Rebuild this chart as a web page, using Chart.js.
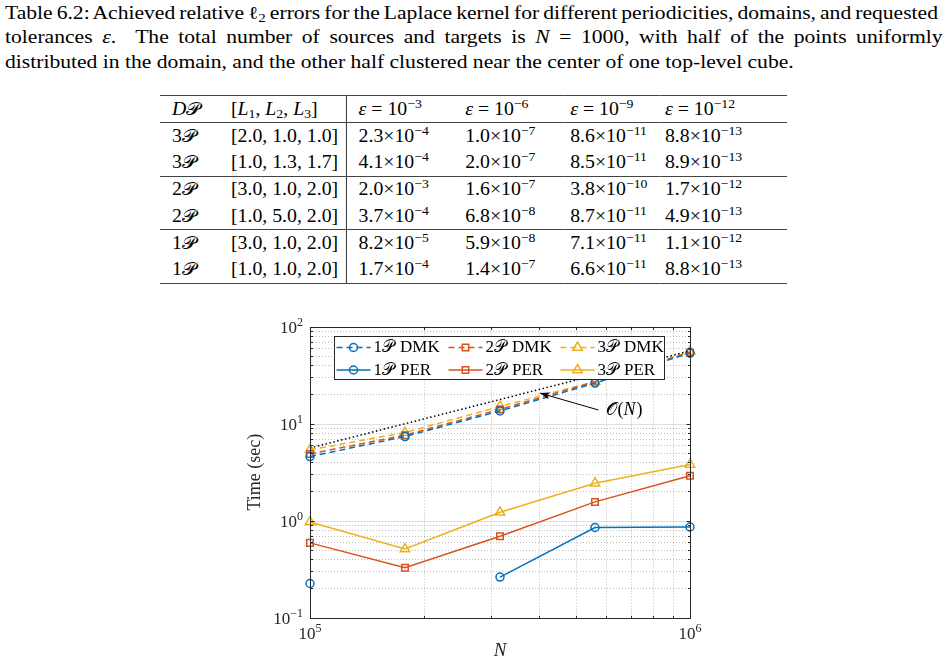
<!DOCTYPE html>
<html>
<head>
<meta charset="utf-8">
<script src="https://cdn.jsdelivr.net/npm/chart.js@4.4.1/dist/chart.umd.min.js"></script>
<style>
  body { margin: 0; background: #fff; width: 947px; height: 670px; overflow: hidden; position: relative;
         font-family: "Liberation Serif", serif; color: #000; }
  #cap { position: absolute; left: 5px; top: 1px; font-size: 18px; line-height: 24.3px; }
  #cap div { white-space: nowrap; height: 24.3px; }
  #cap span { display: inline-block; transform: scaleX(1.2); transform-origin: 0 0; }
  sub, sup { font-size: 12.5px; line-height: 0; }
  sub { vertical-align: -3px; }
  sup { vertical-align: 7px; }
  table { position: absolute; left: 160px; top: 95px; border-collapse: collapse; table-layout: fixed;
          width: 570px; font-size: 18px; border-top: 1px solid #444; border-bottom: 1px solid #444;
          transform: scaleX(1.1); transform-origin: 0 0; }
  td { padding: 0; white-space: nowrap; height: 26.3px; }
  thead td { height: 26px; border-bottom: 1px solid #444; }
  tbody + tbody tr:first-child td { border-top: 1px solid #444; }
  td.c1 { padding-left: 11px; }
  td.c2 { padding-left: 4.5px; border-right: 1px solid #444; }
  td.c3 { padding-left: 11px; }
  td.c4, td.c5 { padding-left: 6.4px; }
  td.c6 { padding-left: 4.5px; }
  #wrap { position: absolute; left: 230px; top: 300px; width: 490px; height: 370px; }
</style>
</head>
<body>
<div id="cap">
  <div><span class="just">Table 6.2: Achieved relative ℓ<sub>2</sub> errors for the Laplace kernel for different periodicities, domains, and requested</span></div>
  <div><span class="just">tolerances <i>ε</i>.&nbsp; The total number of sources and targets is <i>N</i> = 1000, with half of the points uniformly</span></div>
  <div><span>distributed in the domain, and the other half clustered near the center of one top-level cube.</span></div>
</div>

<table>
  <colgroup><col style="width:60px"><col style="width:109px"><col style="width:102px"><col style="width:95.5px"><col style="width:88px"><col style="width:115.5px"></colgroup>
  <thead><tr><td class="c1"><i>D</i>𝒫</td><td class="c2">[<i>L</i><sub>1</sub>, <i>L</i><sub>2</sub>, <i>L</i><sub>3</sub>]</td>
    <td class="c3"><i>ε</i> = 10<sup>−3</sup></td><td class="c4"><i>ε</i> = 10<sup>−6</sup></td><td class="c5"><i>ε</i> = 10<sup>−9</sup></td><td class="c6"><i>ε</i> = 10<sup>−12</sup></td></tr></thead>
  <tbody>
    <tr><td class="c1">3𝒫</td><td class="c2">[2.0, 1.0, 1.0]</td><td class="c3">2.3×10<sup>−4</sup></td><td class="c4">1.0×10<sup>−7</sup></td><td class="c5">8.6×10<sup>−11</sup></td><td class="c6">8.8×10<sup>−13</sup></td></tr>
    <tr><td class="c1">3𝒫</td><td class="c2">[1.0, 1.3, 1.7]</td><td class="c3">4.1×10<sup>−4</sup></td><td class="c4">2.0×10<sup>−7</sup></td><td class="c5">8.5×10<sup>−11</sup></td><td class="c6">8.9×10<sup>−13</sup></td></tr>
  </tbody>
  <tbody>
    <tr><td class="c1">2𝒫</td><td class="c2">[3.0, 1.0, 2.0]</td><td class="c3">2.0×10<sup>−3</sup></td><td class="c4">1.6×10<sup>−7</sup></td><td class="c5">3.8×10<sup>−10</sup></td><td class="c6">1.7×10<sup>−12</sup></td></tr>
    <tr><td class="c1">2𝒫</td><td class="c2">[1.0, 5.0, 2.0]</td><td class="c3">3.7×10<sup>−4</sup></td><td class="c4">6.8×10<sup>−8</sup></td><td class="c5">8.7×10<sup>−11</sup></td><td class="c6">4.9×10<sup>−13</sup></td></tr>
  </tbody>
  <tbody>
    <tr><td class="c1">1𝒫</td><td class="c2">[3.0, 1.0, 2.0]</td><td class="c3">8.2×10<sup>−5</sup></td><td class="c4">5.9×10<sup>−8</sup></td><td class="c5">7.1×10<sup>−11</sup></td><td class="c6">1.1×10<sup>−12</sup></td></tr>
    <tr><td class="c1">1𝒫</td><td class="c2">[1.0, 1.0, 2.0]</td><td class="c3">1.7×10<sup>−4</sup></td><td class="c4">1.4×10<sup>−7</sup></td><td class="c5">6.6×10<sup>−11</sup></td><td class="c6">8.8×10<sup>−13</sup></td></tr>
  </tbody>
</table>

<div id="wrap"><canvas id="myChart" width="490" height="370"></canvas></div>

<script>
/* Data */
const N = [100000, 177828, 316228, 562341, 1000000];
const dmk1P = [4.57, 7.35, 13.5, 26.1, 53.2];
const dmk2P = [4.87, 7.6, 14.0, 27.0, 54.0];
const dmk3P = [5.37, 8.08, 15.0, 27.1, 55.2];
const per1P = [0.225, null, 0.262, 0.85, 0.86];
const per2P = [0.59, 0.327, 0.69, 1.56, 2.90];
const per3P = [0.97, 0.51, 1.22, 2.43, 3.79];
const refN = [100000, 1000000];
const refT = [5.6, 56];          // O(N) guide line
const xTicks = [100000, 1000000];
const yTicks = [0.1, 1, 10, 100];
const xExp = ["5", "6"];
const yExp = ["\u22121", "0", "1", "2"];

/* justify the first two caption lines to the text width (after the 1.2 stretch) */
document.querySelectorAll("#cap span.just").forEach(s => {
  const spaces = (s.textContent.trim().match(/\s+/g) || []).length;
  const w = s.offsetWidth;
  s.style.wordSpacing = ((933 / 1.2 - w) / spaces) + "px";
});

const BLUE = "#0072BD", RED = "#D95319", YEL = "#EDB120";
const SERIF = '"Liberation Serif", serif';

const pts = (xs, ys) => xs.map((x, i) => ({ x: x, y: ys[i] }));

function series(label, values, color, style, dashed) {
  return {
    label: label,
    data: pts(N, values),
    borderColor: color,
    backgroundColor: "transparent",
    borderWidth: 1.5,
    borderDash: dashed ? [6, 4] : [],
    pointStyle: style,
    pointRadius: style === "triangle" ? 5.5 : style === "rect" ? 4.6 : 4,
    pointBorderWidth: 1.5,
    pointBackgroundColor: "transparent",
    pointBorderColor: color,
    spanGaps: false,
    clip: false,
    tension: 0
  };
}

const legendItems = [
  { num: "1", name: "DMK", color: BLUE, style: "circle", dashed: true },
  { num: "2", name: "DMK", color: RED, style: "rect", dashed: true },
  { num: "3", name: "DMK", color: YEL, style: "triangle", dashed: true },
  { num: "1", name: "PER", color: BLUE, style: "circle", dashed: false },
  { num: "2", name: "PER", color: RED, style: "rect", dashed: false },
  { num: "3", name: "PER", color: YEL, style: "triangle", dashed: false }
];

function marker(ctx, style, x, y, color) {
  ctx.save();
  ctx.setLineDash([]);
  ctx.strokeStyle = color;
  ctx.lineWidth = 1.5;
  ctx.beginPath();
  if (style === "circle") {
    ctx.arc(x, y, 4, 0, Math.PI * 2);
  } else if (style === "rect") {
    ctx.rect(x - 3.2, y - 3.2, 6.4, 6.4);
  } else {
    ctx.moveTo(x, y - 5.5);
    ctx.lineTo(x + 4.8, y + 2.8);
    ctx.lineTo(x - 4.8, y + 2.8);
    ctx.closePath();
  }
  ctx.stroke();
  ctx.restore();
}

function drawPow(ctx, exp, x, y, align) {
  ctx.font = "17px " + SERIF;
  const wb = ctx.measureText("10").width;
  ctx.font = "12px " + SERIF;
  const we = ctx.measureText(exp).width;
  let x0 = x;
  if (align === "center") x0 = x - (wb + we) / 2;
  if (align === "right") x0 = x - wb - we;
  ctx.textAlign = "left";
  ctx.textBaseline = "alphabetic";
  ctx.fillStyle = "#262626";
  ctx.font = "17px " + SERIF;
  ctx.fillText("10", x0, y);
  ctx.font = "12px " + SERIF;
  ctx.fillText(exp, x0 + wb, y - 7);
}

const matlabAxes = {
  id: "matlabAxes",
  beforeDatasetsDraw(chart) {
    const { ctx, chartArea: a, scales: { x, y } } = chart;
    ctx.save();
    ctx.lineWidth = 1;
    // minor dotted grid
    ctx.strokeStyle = "rgba(38,38,38,0.3)";
    ctx.setLineDash([1, 2]);
    for (let i = 0; i < xTicks.length - 1; i++) {
      for (let k = 2; k <= 9; k++) {
        const px = Math.round(x.getPixelForValue(k * xTicks[i])) + 0.5;
        ctx.beginPath(); ctx.moveTo(px, a.top); ctx.lineTo(px, a.bottom); ctx.stroke();
      }
    }
    for (let i = 0; i < yTicks.length - 1; i++) {
      for (let k = 2; k <= 9; k++) {
        const py = Math.round(y.getPixelForValue(k * yTicks[i])) + 0.5;
        ctx.beginPath(); ctx.moveTo(a.left, py); ctx.lineTo(a.right, py); ctx.stroke();
      }
    }
    // major grid
    ctx.setLineDash([]);
    ctx.strokeStyle = "rgba(38,38,38,0.15)";
    yTicks.slice(1, -1).forEach(v => {
      const py = Math.round(y.getPixelForValue(v)) + 0.5;
      ctx.beginPath(); ctx.moveTo(a.left, py); ctx.lineTo(a.right, py); ctx.stroke();
    });
    ctx.restore();
  },
  afterDatasetsDraw(chart) {
    const { ctx, chartArea: a, scales: { x, y } } = chart;
    ctx.save();
    const L = Math.round(a.left) + 0.5, R = Math.round(a.right) + 0.5;
    const T = Math.round(a.top) + 0.5, B = Math.round(a.bottom) + 0.5;
    ctx.strokeStyle = "#262626";
    ctx.lineWidth = 1;
    ctx.strokeRect(L, T, R - L, B - T);

    // inward ticks on all sides
    const tick = (x1, y1, x2, y2) => { ctx.beginPath(); ctx.moveTo(x1, y1); ctx.lineTo(x2, y2); ctx.stroke(); };
    for (let i = 0; i < xTicks.length - 1; i++) {
      for (let k = 2; k <= 9; k++) {
        const px = Math.round(x.getPixelForValue(k * xTicks[i])) + 0.5;
        tick(px, B, px, B - 2.5); tick(px, T, px, T + 2.5);
      }
    }
    for (let i = 0; i < yTicks.length - 1; i++) {
      for (let k = 2; k <= 9; k++) {
        const py = Math.round(y.getPixelForValue(k * yTicks[i])) + 0.5;
        tick(L, py, L + 2.5, py); tick(R, py, R - 2.5, py);
      }
    }
    yTicks.forEach(v => {
      const py = Math.round(y.getPixelForValue(v)) + 0.5;
      tick(L, py, L + 4, py); tick(R, py, R - 4, py);
    });

    // tick labels
    xTicks.forEach((v, i) => drawPow(ctx, xExp[i], x.getPixelForValue(v), a.bottom + 21, "center"));
    yTicks.forEach((v, i) => drawPow(ctx, yExp[i], a.left - 7, y.getPixelForValue(v) + 6, "right"));

    // axis titles
    ctx.fillStyle = "#262626";
    ctx.font = "18px " + SERIF;
    ctx.textAlign = "center";
    ctx.textBaseline = "middle";
    ctx.save();
    ctx.translate(a.left - 55, (a.top + a.bottom) / 2);
    ctx.rotate(-Math.PI / 2);
    ctx.fillText("Time (sec)", 0, 0);
    ctx.restore();
    ctx.font = "italic 19px " + SERIF;
    ctx.fillText("N", (a.left + a.right) / 2, a.bottom + 33);

    // O(N) annotation arrow
    const tx = x.getPixelForValue(574000), ty = y.getPixelForValue(13.8);
    const hx = x.getPixelForValue(403000), hy = y.getPixelForValue(20.6);
    ctx.strokeStyle = "#000";
    ctx.fillStyle = "#000";
    ctx.lineWidth = 1;
    tick(tx, ty, hx, hy);
    const ang = Math.atan2(hy - ty, hx - tx);
    ctx.beginPath();
    ctx.moveTo(hx, hy);
    ctx.lineTo(hx - 10 * Math.cos(ang) + 3.5 * Math.sin(ang), hy - 10 * Math.sin(ang) - 3.5 * Math.cos(ang));
    ctx.lineTo(hx - 7 * Math.cos(ang), hy - 7 * Math.sin(ang));
    ctx.lineTo(hx - 10 * Math.cos(ang) - 3.5 * Math.sin(ang), hy - 10 * Math.sin(ang) + 3.5 * Math.cos(ang));
    ctx.closePath();
    ctx.fill();
    ctx.textAlign = "left";
    ctx.textBaseline = "middle";
    ctx.font = "18px " + SERIF;
    let cx = tx + 8;
    ctx.fillText("𝒪(", cx, ty);
    cx += ctx.measureText("𝒪(").width;
    ctx.font = "italic 18px " + SERIF;
    ctx.fillText("N", cx, ty);
    cx += ctx.measureText("N").width + 1;
    ctx.font = "18px " + SERIF;
    ctx.fillText(")", cx, ty);
    ctx.restore();
  },
  afterDraw(chart) {
    const { ctx, chartArea: a } = chart;
    ctx.save();
    const lx = Math.round(a.left + 24) + 0.5, ly = Math.round(a.top + 9) + 0.5;
    ctx.fillStyle = "#fff";
    ctx.fillRect(lx, ly, 330, 43);
    ctx.strokeStyle = "#262626";
    ctx.lineWidth = 1;
    ctx.strokeRect(lx, ly, 330, 43);
    legendItems.forEach((it, i) => {
      const c = i % 3, r = Math.floor(i / 3);
      const x0 = lx + 2 + c * 112, yy = ly + 11 + r * 22.5;
      ctx.strokeStyle = it.color;
      ctx.lineWidth = 1.5;
      ctx.setLineDash(it.dashed ? [6, 4] : []);
      ctx.beginPath(); ctx.moveTo(x0, yy); ctx.lineTo(x0 + 34, yy); ctx.stroke();
      ctx.setLineDash([]);
      marker(ctx, it.style, x0 + 17, yy, it.color);
      ctx.fillStyle = "#000";
      ctx.font = "17px " + SERIF;
      ctx.textAlign = "left";
      ctx.textBaseline = "middle";
      const head = it.num + "𝒫";
      ctx.fillText(head, x0 + 37, yy + 0.5);
      ctx.fillText(it.name, x0 + 37 + ctx.measureText(head).width + 6, yy + 0.5);
    });
    ctx.restore();
  }
};

const ctx = document.getElementById("myChart").getContext("2d");
const chart = new Chart(ctx, {
  type: "line",
  data: {
    datasets: [
      { label: "O(N)", data: pts(refN, refT), borderColor: "#000", borderWidth: 1.5, borderDash: [1.5, 2.5],
        pointRadius: 0, backgroundColor: "transparent", clip: false },
      series("1P DMK", dmk1P, BLUE, "circle", true),
      series("2P DMK", dmk2P, RED, "rect", true),
      series("3P DMK", dmk3P, YEL, "triangle", true),
      series("1P PER", per1P, BLUE, "circle", false),
      series("2P PER", per2P, RED, "rect", false),
      series("3P PER", per3P, YEL, "triangle", false)
    ]
  },
  options: {
    responsive: false,
    animation: false,
    devicePixelRatio: 1,
    layout: { padding: { left: 80, right: 30, top: 26.5, bottom: 52.3 } },
    plugins: { legend: { display: false }, tooltip: { enabled: false } },
    scales: {
      x: { type: "logarithmic", min: 100000, max: 1000000, display: false },
      y: { type: "logarithmic", min: 0.1, max: 100, display: false }
    }
  },
  plugins: [matlabAxes]
});
</script>
</body>
</html>
